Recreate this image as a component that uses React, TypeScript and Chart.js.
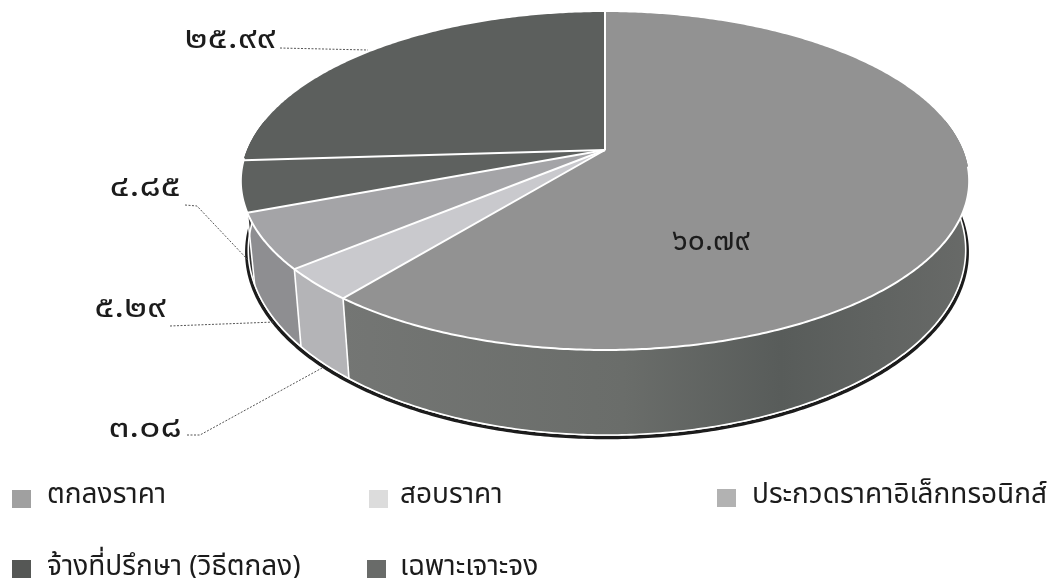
import React, { useEffect, useRef } from "react";
import { Chart, registerables } from "chart.js";

Chart.register(...registerables);

const categories = [
  "ตกลงราคา",
  "สอบราคา",
  "ประกวดราคาอิเล็กทรอนิกส์",
  "จ้างที่ปรึกษา (วิธีตกลง)",
  "เฉพาะเจาะจง",
];
const shares = [60.79, 3.08, 5.29, 4.85, 25.99];
const shareLabels = ["๖๐.๗๙", "๓.๐๘", "๕.๒๙", "๔.๘๕", "๒๕.๙๙"];
const topColors = ["#929292", "#c9c9cd", "#a4a4a7", "#5e615f", "#5c5f5d"];
const sideColors = ["#636664", "#b4b4b7", "#8e8e91", "#2f2f2f", "#3a3a3a"];
const legendColors = ["#a0a0a0", "#dcdcdc", "#b2b2b2", "#555755", "#696b69"];

const FONT = '"Noto Sans", "Noto Sans Thai", "Noto Sans CJK SC", sans-serif';

// Pie geometry on the canvas
const CX = 605, CY = 150, A = 358, B = 163.3, K = 0.1834;
const BOTTOM_SHIFT_X = 2, BOTTOM_SCALE_X = 0.985, BOTTOM_SCALE_Y = 1.095, MID_Y = 181, BOTTOM_MID_Y = 250;

const labelLayout = [
  { x: 711, y: 241, stretch: 1 },
  { x: 145, y: 428, stretch: 1.24 },
  { x: 130, y: 308, stretch: 1.24 },
  { x: 145, y: 187, stretch: 1.24 },
  { x: 230, y: 39, stretch: 1.24 },
];
const leaderLayout: number[][][] = [
  [],
  [[187, 435], [200, 435], [322, 368]],
  [[170, 326], [275, 322]],
  [[185, 205], [197, 206], [248, 260]],
  [[280, 48], [368, 50]],
];
const legendLayout = [
  { x: 12, y: 490, tx: 47, base: 503 },
  { x: 369, y: 490, tx: 400, base: 503 },
  { x: 717, y: 489, tx: 752, base: 503 },
  { x: 12, y: 560, tx: 47, base: 575 },
  { x: 367, y: 560, tx: 400, base: 575 },
];

const project = (t: number) => {
  const u = Math.cos(t), v = Math.sin(t), d = 1 - K * v;
  return { x: CX + (A * u) / d, y: CY + (B * v) / d };
};
const lower = (p: { x: number; y: number }) => ({
  x: CX + BOTTOM_SHIFT_X + (p.x - CX) * BOTTOM_SCALE_X,
  y: BOTTOM_MID_Y + (p.y - MID_Y) * BOTTOM_SCALE_Y,
});
const steps = (s: number, e: number) => {
  const n = Math.max(2, Math.ceil((e - s) / 0.01));
  return Array.from({ length: n + 1 }, (_, i) => s + ((e - s) * i) / n);
};

const pie3d = {
  id: "pie3d",
  beforeDatasetDraw(chart: any) {
    const ctx: CanvasRenderingContext2D = chart.ctx;
    const arcs = chart.getDatasetMeta(0).data as any[];
    const FRONT_A = -0.19, FRONT_B = Math.PI + 0.19;
    const front = (s: number, e: number) => {
      const parts: [number, number][] = [];
      for (const off of [0, 2 * Math.PI, -2 * Math.PI]) {
        const a = Math.max(s + off, FRONT_A), b = Math.min(e + off, FRONT_B);
        if (b > a) parts.push([a, b]);
      }
      return parts;
    };

    ctx.save();
    ctx.lineJoin = "round";

    // contact shadow under the disc
    ctx.beginPath();
    steps(-0.12, Math.PI + 0.12).forEach((t, i) => {
      const p = lower(project(t));
      const q = { x: p.x + 1.5 * Math.cos(t), y: p.y + 2.5 };
      i ? ctx.lineTo(q.x, q.y) : ctx.moveTo(q.x, q.y);
    });
    ctx.strokeStyle = "#1c1c1c";
    ctx.lineWidth = 3.5;
    ctx.stroke();

    const sideGrad = ctx.createLinearGradient(340, 0, 970, 0);
    sideGrad.addColorStop(0, "#747674");
    sideGrad.addColorStop(0.45, "#6a6d6a");
    sideGrad.addColorStop(0.7, "#585c5a");
    sideGrad.addColorStop(1, "#686a68");

    // side walls
    arcs.forEach((arc, i) => {
      for (const [a, b] of front(arc.startAngle, arc.endAngle)) {
        const ts = steps(a, b);
        ctx.beginPath();
        ts.forEach((t, j) => {
          const p = project(t);
          j ? ctx.lineTo(p.x, p.y) : ctx.moveTo(p.x, p.y);
        });
        ts.slice().reverse().forEach((t) => {
          const p = lower(project(t));
          ctx.lineTo(p.x, p.y);
        });
        ctx.closePath();
        ctx.fillStyle = i === 0 ? sideGrad : sideColors[i];
        ctx.fill();
      }
    });

    // white edges between side walls and along the lower rim
    ctx.strokeStyle = "#ffffff";
    ctx.lineWidth = 1.6;
    arcs.slice(0, 3).forEach((arc) => {
      const p = project(arc.endAngle), q = lower(p);
      ctx.beginPath();
      ctx.moveTo(p.x, p.y);
      ctx.lineTo(q.x, q.y);
      ctx.stroke();
    });
    ctx.beginPath();
    steps(-0.12, Math.PI + 0.02).forEach((t, i) => {
      const p = lower(project(t));
      i ? ctx.lineTo(p.x, p.y) : ctx.moveTo(p.x, p.y);
    });
    ctx.stroke();

    // top faces
    arcs.forEach((arc, i) => {
      ctx.beginPath();
      ctx.moveTo(CX, CY);
      steps(arc.startAngle, arc.endAngle).forEach((t) => {
        const p = project(t);
        ctx.lineTo(p.x, p.y);
      });
      ctx.closePath();
      ctx.fillStyle = topColors[i];
      ctx.fill();
    });

    // white dividers on top, and the front rim
    ctx.lineWidth = 2;
    arcs.forEach((arc) => {
      const p = project(arc.startAngle);
      ctx.beginPath();
      ctx.moveTo(CX, CY);
      ctx.lineTo(p.x, p.y);
      ctx.stroke();
    });
    ctx.beginPath();
    steps(0.1, Math.PI - 0.05).forEach((t, i) => {
      const p = project(t);
      i ? ctx.lineTo(p.x, p.y) : ctx.moveTo(p.x, p.y);
    });
    ctx.stroke();
    ctx.restore();
    return false;
  },
  afterDraw(chart: any) {
    const ctx: CanvasRenderingContext2D = chart.ctx;
    ctx.save();

    // leader lines
    ctx.strokeStyle = "#555555";
    ctx.lineWidth = 1;
    ctx.setLineDash([2, 1.5]);
    leaderLayout.forEach((pts) => {
      if (!pts.length) return;
      ctx.beginPath();
      pts.forEach(([x, y], i) => (i ? ctx.lineTo(x, y) : ctx.moveTo(x, y)));
      ctx.stroke();
    });
    ctx.setLineDash([]);

    // value labels
    ctx.fillStyle = "#1c1c1c";
    ctx.textAlign = "center";
    ctx.textBaseline = "middle";
    ctx.font = `30px ${FONT}`;
    shareLabels.forEach((s, i) => {
      const l = labelLayout[i];
      ctx.save();
      ctx.translate(l.x, l.y);
      ctx.scale(l.stretch, 1);
      ctx.fillText(s, 0, 0);
      ctx.restore();
    });

    // legend
    ctx.textAlign = "left";
    ctx.textBaseline = "alphabetic";
    ctx.font = `28px ${FONT}`;
    (chart.data.labels as string[]).forEach((label, i) => {
      const l = legendLayout[i];
      ctx.fillStyle = legendColors[i];
      ctx.fillRect(l.x, l.y, 19, 18);
      ctx.fillStyle = "#1c1c1c";
      ctx.fillText(label, l.tx, l.base);
    });
    ctx.restore();
  },
};

export default function App() {
  const ref = useRef<HTMLCanvasElement>(null);
  useEffect(() => {
    document.body.style.margin = "0";
    const chart = new Chart(ref.current!, {
      type: "pie",
      data: {
        labels: categories,
        datasets: [{ data: shares, backgroundColor: topColors, borderWidth: 0 }],
      },
      options: {
        animation: false,
        responsive: false,
        rotation: 0,
        plugins: { legend: { display: false }, tooltip: { enabled: false } },
      },
      plugins: [pie3d as any],
    });
    return () => chart.destroy();
  }, []);
  return <canvas ref={ref} width={1059} height={578} style={{ display: "block", background: "#fff" }} />;
}
